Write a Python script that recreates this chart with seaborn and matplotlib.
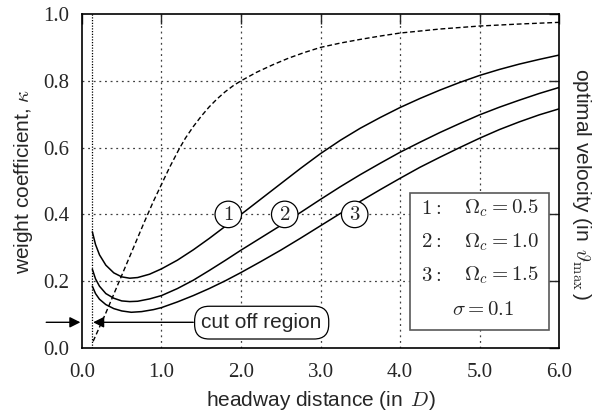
#!/usr/bin/env python3
# -*- coding: utf-8 -*-

import seaborn as sns
import matplotlib
matplotlib.use("Agg")
import matplotlib.pyplot as plt

# optimal velocity (dashed)
ov_x = [0.14, 0.3, 0.46, 0.62, 0.78, 0.9, 1.0, 1.1, 1.22, 1.3, 1.4, 1.5, 1.6, 1.7, 1.8, 1.9, 2.0,
        2.2, 2.4, 2.6, 2.8, 3.0, 3.25, 3.5, 3.75, 4.0, 4.5, 5.0, 5.5, 6.0]
ov_y = [0.02, 0.105, 0.195, 0.285, 0.375, 0.44, 0.49, 0.54, 0.595, 0.628, 0.663, 0.694, 0.722, 0.746,
        0.767, 0.785, 0.8, 0.826, 0.848, 0.868, 0.885, 0.9, 0.913, 0.924, 0.934, 0.943, 0.955, 0.964,
        0.97, 0.975]

# weight coefficient curves, Omega_c = 0.5, 1.0, 1.5
k1_x = [0.13, 0.17, 0.22, 0.3, 0.4, 0.5, 0.6, 0.7, 0.85, 1.0, 1.2, 1.4, 1.6, 1.8, 2.0, 2.25, 2.5,
        2.75, 3.0, 3.25, 3.5, 3.75, 4.0, 4.25, 4.5, 4.75, 5.0, 5.25, 5.5, 5.75, 6.0]
k1_y = [0.348, 0.31, 0.279, 0.248, 0.225, 0.213, 0.209, 0.211, 0.221, 0.237, 0.263, 0.294, 0.328,
        0.364, 0.4, 0.446, 0.492, 0.538, 0.582, 0.622, 0.658, 0.69, 0.72, 0.747, 0.772, 0.795, 0.816,
        0.834, 0.85, 0.864, 0.877]

k2_x = [0.13, 0.17, 0.22, 0.3, 0.4, 0.5, 0.6, 0.7, 0.85, 1.0, 1.2, 1.4, 1.6, 1.8, 2.0, 2.25, 2.5,
        2.75, 3.0, 3.25, 3.5, 3.75, 4.0, 4.25, 4.5, 4.75, 5.0, 5.25, 5.5, 5.75, 6.0]
k2_y = [0.236, 0.207, 0.185, 0.163, 0.149, 0.141, 0.139, 0.14, 0.147, 0.157, 0.178, 0.203, 0.232,
        0.262, 0.293, 0.33, 0.367, 0.406, 0.445, 0.483, 0.519, 0.553, 0.586, 0.616, 0.645, 0.672,
        0.698, 0.721, 0.742, 0.762, 0.78]

k3_x = [0.13, 0.17, 0.22, 0.3, 0.4, 0.5, 0.62, 0.75, 0.9, 1.0, 1.2, 1.4, 1.6, 1.8, 2.0, 2.25, 2.5,
        2.75, 3.0, 3.25, 3.5, 3.75, 4.0, 4.25, 4.5, 4.75, 5.0, 5.25, 5.5, 5.75, 6.0]
k3_y = [0.185, 0.163, 0.146, 0.13, 0.118, 0.111, 0.107, 0.109, 0.115, 0.121, 0.138, 0.157, 0.178,
        0.201, 0.226, 0.259, 0.293, 0.329, 0.366, 0.403, 0.439, 0.474, 0.508, 0.541, 0.571, 0.6,
        0.628, 0.654, 0.677, 0.698, 0.716]

curve_labels = ["1", "2", "3"]
label_x = [1.84, 2.55, 3.43]
label_y = [0.40, 0.40, 0.40]

legend_ids = ["$1:$", "$2:$", "$3:$"]
legend_vals = ["$\\Omega_c = 0.5$", "$\\Omega_c = 1.0$", "$\\Omega_c = 1.5$"]
sigma_text = "$\\sigma = 0.1$"

cutoff = 0.13
xticks = [0, 1, 2, 3, 4, 5, 6]
yticks = [0.0, 0.2, 0.4, 0.6, 0.8, 1.0]


def main():
    sns.set_style("white")
    plt.rcParams["font.family"] = ["Liberation Sans", "DejaVu Sans"]
    plt.rcParams["mathtext.fontset"] = "cm"

    fig = plt.figure(figsize=(6.02, 4.12), dpi=100)
    ax = fig.add_axes([0.1362, 0.1553, 0.7924, 0.8107])

    sns.lineplot(x=ov_x, y=ov_y, ax=ax, color="black", lw=1.0, linestyle=(0, (3.5, 2)))
    for xs, ys in [(k1_x, k1_y), (k2_x, k2_y), (k3_x, k3_y)]:
        sns.lineplot(x=xs, y=ys, ax=ax, color="black", lw=1.1)

    ax.set_xlim(0, 6)
    ax.set_ylim(0, 1)
    ax.set_xticks(xticks)
    ax.set_yticks(yticks)
    ax.set_xticklabels(["%.1f" % v for v in xticks], family="Liberation Serif", fontsize=15)
    ax.set_yticklabels(["%.1f" % v for v in yticks], family="Liberation Serif", fontsize=15)
    ax.tick_params(direction="in", length=7, width=1, top=True, right=True)
    ax.tick_params(axis="x", pad=11)
    ax.tick_params(axis="y", pad=9)
    for s in ax.spines.values():
        s.set_color("black")
        s.set_linewidth(1.2)

    for v in xticks[1:-1]:
        ax.axvline(v, color="0.25", lw=0.9, ls=(0, (1.5, 3)), zorder=0)
    for v in yticks[1:-1]:
        ax.axhline(v, color="0.25", lw=0.9, ls=(0, (1.5, 3)), zorder=0)
    ax.axvline(cutoff, color="black", lw=0.9, ls=(0, (1, 1.2)), zorder=1)

    for t, x, y in zip(curve_labels, label_x, label_y):
        ax.text(x, y, "$%s$" % t, fontsize=15, ha="center", va="center", zorder=5,
                bbox=dict(boxstyle="circle,pad=0.18", fc="white", ec="black", lw=0.9))

    # legend box
    box = plt.Rectangle((4.12, 0.054), 1.75, 0.411, fc="white", ec="0.35", lw=1.2, zorder=4)
    ax.add_patch(box)
    for i, (a, b) in enumerate(zip(legend_ids, legend_vals)):
        y = 0.418 - 0.1 * i
        ax.text(4.27, y, a, fontsize=15, ha="left", va="center", zorder=5)
        ax.text(4.81, y, b, fontsize=15, ha="left", va="center", zorder=5)
    ax.text(5.05, 0.114, sigma_text, fontsize=15, ha="center", va="center", zorder=5)

    # cut off region annotation
    ax.annotate("", xy=(0.14, 0.077), xytext=(1.4, 0.077),
                arrowprops=dict(arrowstyle="-|>", color="black", lw=1.0, mutation_scale=16,
                                shrinkA=0, shrinkB=0))
    ax.text(2.26, 0.076, "cut off region", fontsize=15, ha="center", va="center", zorder=5,
            bbox=dict(boxstyle="round,pad=0.33,rounding_size=0.7", fc="white", ec="black", lw=0.9))
    ax.annotate("", xy=(-0.02, 0.077), xytext=(-0.45, 0.077), annotation_clip=False,
                arrowprops=dict(arrowstyle="-|>", color="black", lw=1.0, mutation_scale=16,
                                shrinkA=0, shrinkB=0))

    ax.set_xlabel("headway distance (in $\\,D$)", fontsize=15, labelpad=5)
    ax.set_ylabel("weight coefficient, $\\kappa$", fontsize=15, labelpad=6)
    ax.text(1.024, 0.49, "optimal velocity (in $\\,\\vartheta_{\\max}\\,$)", transform=ax.transAxes,
            rotation=270, fontsize=15, ha="left", va="center")

    fig.savefig("out.png", dpi=100)


if __name__ == "__main__":
    main()
